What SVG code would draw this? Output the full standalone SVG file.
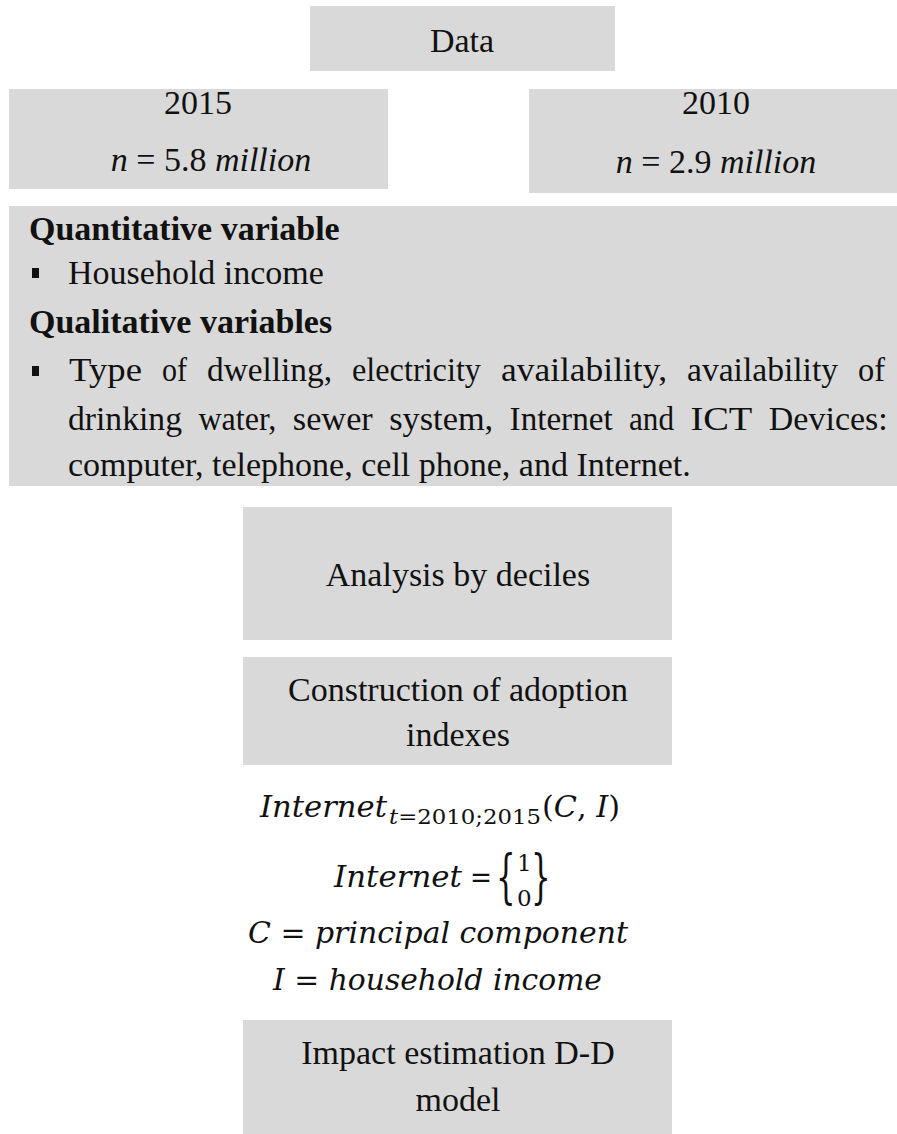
<svg xmlns="http://www.w3.org/2000/svg" width="897" height="1134" viewBox="0 0 897 1134">
<style>
.box{fill:#d9d9d9;}
.t{font-family:"Liberation Serif",serif;font-size:34px;fill:#111;}
.c{text-anchor:middle;}
.b{font-weight:bold;}
.m{font-family:"DejaVu Serif",serif;font-style:italic;font-size:29px;fill:#111;}
.mu{font-family:"DejaVu Serif",serif;font-size:29px;fill:#111;}
.sub{font-family:"DejaVu Serif",serif;font-size:21px;fill:#111;}
.sm{font-family:"DejaVu Serif",serif;font-size:23px;fill:#111;}
.br{font-family:"DejaVu Serif",serif;font-size:44px;fill:#111;}
</style>
<rect width="897" height="1134" fill="#fff"/>
<g id="data">
<rect class="box" x="310" y="6" width="305" height="65"/>
<text class="t c" x="462" y="52">Data</text>
</g>
<g id="y2015">
<rect class="box" x="9" y="89" width="379" height="100"/>
<text class="t c" x="198" y="114">2015</text>
<text class="t c" x="211" y="171"><tspan font-style="italic">n</tspan> = 5.8 <tspan font-style="italic">million</tspan></text>
</g>
<g id="y2010">
<rect class="box" x="529" y="89" width="368" height="104"/>
<text class="t c" x="716" y="114">2010</text>
<text class="t c" x="716" y="173"><tspan font-style="italic">n</tspan> = 2.9 <tspan font-style="italic">million</tspan></text>
</g>
<g id="variables">
<rect class="box" x="9" y="206" width="888" height="280"/>
<text class="t b" x="29" y="240">Quantitative variable</text>
<rect x="32" y="268" width="7" height="10" fill="#111"/>
<text class="t" x="68" y="284">Household income</text>
<text class="t b" x="29" y="333">Qualitative variables</text>
<rect x="32" y="366" width="7" height="10" fill="#111"/>
<text class="t" x="69" y="381" textLength="73" lengthAdjust="spacingAndGlyphs">Type</text>
<text class="t" x="162" y="381" textLength="25" lengthAdjust="spacingAndGlyphs">of</text>
<text class="t" x="207" y="381" textLength="125" lengthAdjust="spacingAndGlyphs">dwelling,</text>
<text class="t" x="352" y="381" textLength="129" lengthAdjust="spacingAndGlyphs">electricity</text>
<text class="t" x="501" y="381" textLength="166" lengthAdjust="spacingAndGlyphs">availability,</text>
<text class="t" x="687" y="381" textLength="151" lengthAdjust="spacingAndGlyphs">availability</text>
<text class="t" x="858" y="381" textLength="27" lengthAdjust="spacingAndGlyphs">of</text>
<text class="t" x="68" y="430" textLength="114" lengthAdjust="spacingAndGlyphs">drinking</text>
<text class="t" x="198.4" y="430" textLength="78" lengthAdjust="spacingAndGlyphs">water,</text>
<text class="t" x="292.8" y="430" textLength="80" lengthAdjust="spacingAndGlyphs">sewer</text>
<text class="t" x="389.2" y="430" textLength="104" lengthAdjust="spacingAndGlyphs">system,</text>
<text class="t" x="509.6" y="430" textLength="103" lengthAdjust="spacingAndGlyphs">Internet</text>
<text class="t" x="629" y="430" textLength="45" lengthAdjust="spacingAndGlyphs">and</text>
<text class="t" x="690.4" y="430" textLength="62" lengthAdjust="spacingAndGlyphs">ICT</text>
<text class="t" x="768.8" y="430" textLength="119" lengthAdjust="spacingAndGlyphs">Devices:</text>
<text class="t" x="68" y="476">computer, telephone, cell phone, and Internet.</text>
</g>
<g id="deciles">
<rect class="box" x="243" y="507" width="429" height="133"/>
<text class="t c" x="458" y="586">Analysis by deciles</text>
</g>
<g id="indexes">
<rect class="box" x="243" y="657" width="429" height="108"/>
<text class="t c" x="458" y="701">Construction of adoption</text>
<text class="t c" x="458" y="746">indexes</text>
</g>
<g id="formulas">
<text class="m" x="260" y="817" textLength="127" lengthAdjust="spacingAndGlyphs">Internet</text>
<text class="sub" x="389" y="824" textLength="152" lengthAdjust="spacingAndGlyphs"><tspan font-style="italic">t</tspan>=2010;2015</text>
<text class="mu" x="542" y="817" textLength="78" lengthAdjust="spacingAndGlyphs">(<tspan font-style="italic">C</tspan>, <tspan font-style="italic">I</tspan>)</text>
<text class="m" x="334" y="887" textLength="128" lengthAdjust="spacingAndGlyphs">Internet</text>
<text class="mu" x="470" y="887" textLength="22" lengthAdjust="spacingAndGlyphs">=</text>
<text class="br" x="496" y="897" transform="translate(496 897) scale(0.7 1.3) translate(-496 -897)">{</text>
<text class="sm" x="517" y="871">1</text>
<text class="sm" x="517" y="906">0</text>
<text class="br" x="531" y="897" transform="translate(531 897) scale(0.7 1.3) translate(-531 -897)">}</text>
<text class="m" x="248" y="943" textLength="380" lengthAdjust="spacingAndGlyphs">C <tspan font-style="normal">=</tspan> principal component</text>
<text class="m" x="273" y="990" textLength="329" lengthAdjust="spacingAndGlyphs">I <tspan font-style="normal">=</tspan> household income</text>
</g>
<g id="impact">
<rect class="box" x="243" y="1020" width="429" height="114"/>
<text class="t c" x="458" y="1064">Impact estimation D-D</text>
<text class="t c" x="458" y="1111">model</text>
</g>
<g id="connectors"></g>
</svg>
